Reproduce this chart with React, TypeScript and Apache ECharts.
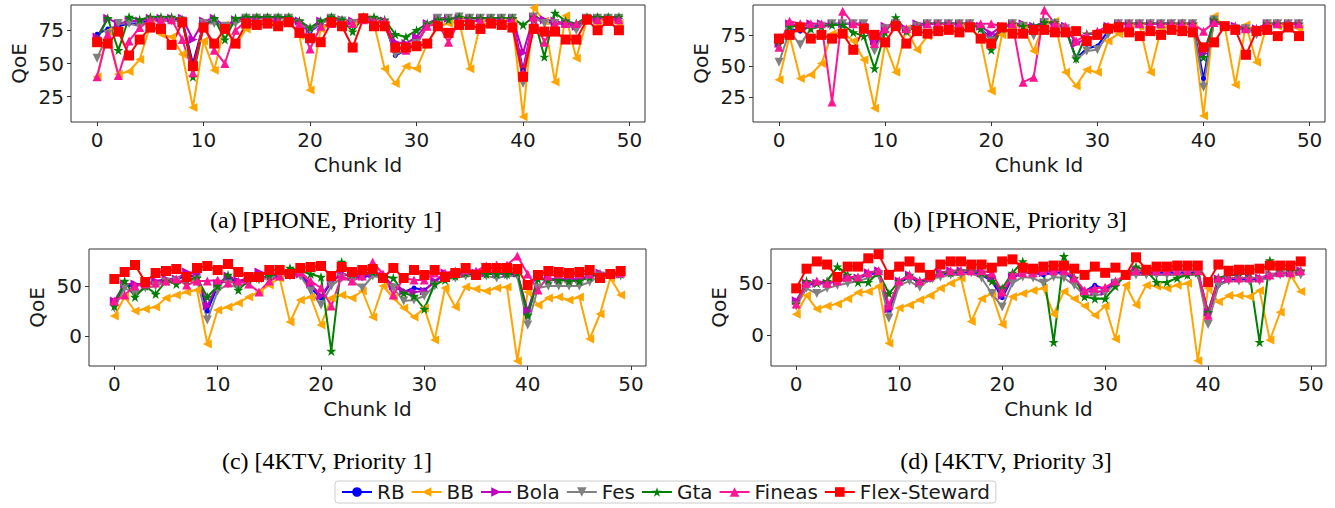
import React, { useEffect, useRef } from 'react';
import * as echarts from 'echarts';

const SERIES_NAMES = ['RB', 'BB', 'Bola', 'Fes', 'Gta', 'Fineas', 'Flex-Steward'];
const X_TICKS = [0, 10, 20, 30, 40, 50];
const CAPTIONS = ['(a) [PHONE, Priority 1]', '(b) [PHONE, Priority 3]', '(c) [4KTV, Priority 1]', '(d) [4KTV, Priority 3]'];

// (a) PHONE, Priority 1
const A_RB = [72, 76, 78, 80, 80, 83, 83, 83, 83, 50, 80, 82, 76, 82, 84, 84, 84, 84, 84, 80, 74, 80, 84, 82, 80, 84, 82, 80, 56, 60, 66, 78, 84, 84, 84, 84, 84, 84, 84, 84, 45, 85, 82, 80, 80, 76, 84, 84, 84, 84];
const A_BB = [40, 74, 42, 44, 53, 79, 72, 70, 57, 17, 67, 45, 79, 64, 76, 80, 81, 80, 82, 71, 30, 76, 80, 80, 80, 83, 80, 46, 35, 48, 46, 65, 78, 80, 82, 46, 80, 80, 82, 82, 10, 92, 82, 36, 86, 54, 83, 80, 82, 80];
const A_BOLA = [70, 84, 80, 82, 82, 84, 84, 84, 84, 68, 82, 84, 78, 83, 84, 84, 84, 84, 84, 82, 76, 82, 84, 83, 82, 84, 83, 82, 66, 65, 70, 80, 84, 84, 84, 84, 84, 84, 84, 84, 58, 85, 83, 82, 80, 78, 84, 84, 84, 84];
const A_FES = [54, 72, 80, 80, 78, 82, 82, 82, 82, 45, 80, 80, 78, 80, 84, 84, 84, 84, 84, 80, 75, 80, 84, 82, 80, 84, 82, 80, 57, 60, 65, 78, 84, 84, 85, 84, 84, 84, 84, 84, 35, 85, 80, 80, 80, 75, 84, 84, 84, 84];
const A_GTA = [68, 84, 60, 85, 83, 85, 85, 85, 83, 40, 78, 84, 68, 84, 85, 85, 85, 85, 85, 82, 77, 82, 85, 83, 74, 85, 85, 83, 72, 70, 75, 80, 83, 83, 85, 84, 84, 84, 84, 84, 79, 85, 55, 88, 82, 80, 85, 85, 85, 85];
const A_FINEAS = [40, 72, 41, 67, 77, 83, 83, 83, 68, 43, 80, 60, 50, 75, 82, 82, 82, 82, 82, 80, 61, 78, 80, 80, 80, 83, 82, 82, 62, 60, 65, 78, 80, 66, 82, 82, 82, 82, 82, 82, 43, 85, 66, 80, 80, 80, 83, 83, 83, 83];
const A_FLEX = [66, 65, 74, 56, 68, 77, 76, 64, 81, 48, 77, 65, 76, 65, 80, 79, 80, 78, 81, 73, 69, 66, 81, 78, 62, 84, 78, 78, 62, 62, 63, 65, 78, 73, 79, 79, 76, 80, 79, 77, 40, 76, 74, 74, 68, 68, 83, 75, 82, 75];

// (b) PHONE, Priority 3
const B_RB = [70, 80, 78, 82, 82, 84, 84, 84, 84, 65, 80, 84, 78, 83, 84, 84, 84, 84, 84, 80, 72, 80, 84, 83, 80, 85, 84, 80, 56, 64, 66, 78, 84, 84, 84, 84, 84, 84, 84, 84, 40, 86, 82, 80, 80, 76, 84, 84, 84, 84];
const B_BB = [39, 74, 40, 43, 52, 76, 77, 70, 55, 16, 68, 45, 80, 63, 74, 80, 80, 82, 82, 71, 30, 75, 82, 82, 62, 85, 86, 45, 34, 47, 45, 70, 76, 82, 82, 45, 80, 82, 82, 82, 10, 90, 82, 35, 83, 53, 84, 82, 82, 80];
const B_BOLA = [68, 84, 82, 84, 84, 84, 84, 84, 84, 70, 82, 84, 80, 84, 84, 84, 84, 84, 84, 82, 76, 82, 84, 84, 82, 85, 84, 82, 68, 72, 74, 82, 84, 84, 84, 84, 84, 84, 84, 84, 60, 86, 82, 82, 80, 80, 84, 84, 84, 84];
const B_FES = [53, 78, 67, 80, 82, 84, 84, 84, 84, 62, 80, 84, 78, 82, 84, 84, 84, 84, 84, 80, 70, 80, 84, 82, 74, 85, 84, 80, 55, 62, 63, 75, 84, 84, 84, 84, 84, 84, 84, 84, 33, 87, 82, 80, 80, 75, 84, 84, 84, 84];
const B_GTA = [68, 82, 82, 80, 82, 83, 83, 77, 74, 48, 77, 89, 78, 82, 84, 84, 84, 84, 84, 80, 63, 80, 84, 82, 82, 85, 85, 80, 56, 76, 75, 80, 84, 84, 84, 84, 84, 84, 84, 84, 57, 87, 82, 82, 80, 80, 84, 84, 84, 84];
const B_FINEAS = [65, 86, 84, 84, 84, 21, 94, 84, 82, 68, 80, 85, 80, 82, 84, 84, 84, 84, 84, 84, 84, 82, 84, 37, 41, 95, 84, 82, 70, 75, 78, 82, 84, 84, 84, 84, 84, 84, 84, 84, 78, 85, 82, 82, 80, 80, 84, 84, 84, 84];
const B_FLEX = [72, 75, 81, 72, 75, 72, 76, 63, 80, 75, 69, 82, 68, 78, 76, 78, 79, 77, 81, 72, 68, 81, 76, 76, 79, 79, 77, 77, 78, 70, 75, 80, 81, 77, 74, 78, 75, 79, 78, 77, 65, 69, 82, 79, 59, 78, 79, 74, 81, 74];

// (c) 4KTV, Priority 1
const C_RB = [33, 50, 50, 52, 54, 56, 57, 60, 60, 25, 50, 58, 54, 57, 62, 62, 62, 62, 62, 48, 38, 54, 62, 60, 58, 62, 60, 50, 44, 48, 46, 54, 62, 62, 62, 62, 62, 62, 62, 62, 20, 58, 56, 56, 56, 56, 60, 62, 62, 62];
const C_BB = [20, 39, 25, 27, 29, 38, 41, 44, 46, -8, 26, 29, 33, 39, 44, 51, 58, 14, 36, 39, 11, 38, 41, 38, 45, 19, 50, 38, 28, 19, 28, -4, 48, 29, 49, 47, 45, 48, 49, -25, 44, 31, 38, 39, 36, 39, -3, 22, 58, 41];
const C_BOLA = [35, 52, 52, 52, 55, 57, 57, 64, 62, 30, 52, 60, 55, 58, 64, 62, 62, 62, 62, 52, 40, 55, 62, 60, 60, 62, 60, 50, 45, 44, 45, 55, 63, 63, 63, 63, 63, 63, 63, 63, 25, 58, 57, 57, 57, 57, 60, 63, 62, 62];
const C_FES = [28, 48, 42, 48, 50, 54, 55, 55, 56, 16, 45, 52, 48, 54, 56, 58, 60, 60, 60, 45, 31, 50, 58, 55, 48, 60, 58, 48, 35, 36, 40, 50, 57, 58, 60, 60, 60, 58, 60, 60, 11, 48, 50, 50, 50, 50, 54, 60, 60, 60];
const C_GTA = [30, 55, 39, 50, 42, 55, 52, 56, 58, 39, 50, 61, 46, 56, 58, 60, 62, 68, 65, 62, 59, -15, 74, 62, 62, 64, 60, 58, 43, 40, 27, 52, 56, 60, 63, 62, 62, 62, 62, 63, 21, 57, 56, 56, 55, 55, 59, 62, 62, 62];
const C_FINEAS = [35, 41, 50, 52, 53, 55, 57, 51, 55, 55, 56, 53, 55, 52, 44, 55, 60, 62, 64, 55, 48, 30, 60, 55, 60, 74, 62, 41, 58, 56, 56, 63, 63, 65, 66, 65, 70, 71, 71, 80, 62, 46, 60, 62, 62, 62, 62, 62, 62, 63];
const C_FLEX = [57, 64, 71, 54, 63, 65, 67, 59, 68, 70, 66, 72, 64, 59, 59, 66, 66, 62, 68, 69, 70, 60, 69, 64, 66, 67, 58, 68, 58, 66, 61, 66, 59, 63, 68, 61, 68, 68, 68, 67, 51, 61, 65, 64, 63, 64, 66, 58, 62, 65];

// (d) 4KTV, Priority 3
const D_RB = [32, 48, 50, 50, 52, 55, 55, 58, 60, 24, 50, 56, 50, 55, 58, 60, 60, 60, 58, 52, 36, 55, 60, 60, 58, 60, 60, 54, 42, 48, 44, 50, 58, 60, 60, 60, 60, 60, 60, 60, 20, 48, 54, 54, 54, 54, 57, 60, 60, 60];
const D_BB = [20, 38, 25, 28, 30, 35, 41, 42, 47, -8, 26, 29, 34, 38, 45, 50, 55, 13, 35, 40, 10, 37, 40, 43, 45, 20, 42, 35, 28, 19, 28, -4, 48, 29, 48, 47, 45, 48, 50, -25, 45, 32, 38, 38, 37, 43, -5, 22, 58, 42];
const D_BOLA = [33, 50, 50, 50, 52, 55, 55, 60, 62, 25, 52, 58, 50, 55, 60, 62, 62, 62, 60, 55, 38, 56, 60, 60, 60, 62, 62, 55, 42, 42, 42, 50, 58, 62, 62, 62, 62, 62, 62, 62, 22, 54, 55, 55, 55, 55, 58, 60, 60, 62];
const D_FES = [28, 45, 40, 45, 48, 50, 52, 55, 58, 16, 48, 52, 46, 54, 56, 58, 58, 60, 55, 40, 27, 50, 56, 55, 50, 56, 55, 48, 38, 38, 40, 50, 58, 58, 58, 58, 58, 58, 58, 58, 10, 48, 52, 52, 52, 52, 56, 58, 58, 58];
const D_GTA = [30, 52, 50, 52, 66, 58, 51, 51, 60, 40, 52, 58, 52, 55, 60, 60, 62, 62, 60, 52, 45, 60, 71, 62, 62, -7, 76, 55, 37, 35, 35, 47, 58, 66, 62, 51, 51, 55, 58, 60, 22, 55, 58, 58, 60, -7, 72, 65, 62, 62];
const D_FINEAS = [30, 50, 52, 50, 52, 56, 56, 60, 62, 29, 52, 58, 52, 56, 60, 62, 62, 62, 62, 60, 42, 58, 60, 60, 62, 62, 62, 55, 43, 45, 46, 52, 58, 62, 62, 62, 62, 62, 62, 62, 19, 55, 55, 55, 55, 55, 58, 60, 60, 62];
const D_FLEX = [45, 64, 71, 68, 56, 66, 66, 74, 78, 58, 66, 71, 65, 58, 68, 71, 71, 68, 68, 65, 71, 73, 65, 64, 66, 67, 67, 64, 58, 66, 60, 65, 58, 75, 63, 66, 66, 67, 67, 67, 51, 68, 62, 63, 63, 64, 67, 67, 67, 71];

const PANELS = [
  [A_RB, A_BB, A_BOLA, A_FES, A_GTA, A_FINEAS, A_FLEX],
  [B_RB, B_BB, B_BOLA, B_FES, B_GTA, B_FINEAS, B_FLEX],
  [C_RB, C_BB, C_BOLA, C_FES, C_GTA, C_FINEAS, C_FLEX],
  [D_RB, D_BB, D_BOLA, D_FES, D_GTA, D_FINEAS, D_FLEX],
];
const Y_RANGES = [[6, 94], [5, 99], [-30, 87], [-30, 83]];
const Y_TICKS = [[25, 50, 75], [25, 50, 75], [0, 50], [0, 50]];

const STAR = 'path://M50,0L61.2,34.5L97.6,34.5L68.2,55.9L79.4,90.5L50,69.1L20.6,90.5L31.8,55.9L2.4,34.5L38.8,34.5Z';
const STYLES = [
  { color: '#0000ff', symbol: 'circle', size: 5, rotate: 0 },
  { color: '#ffa500', symbol: 'triangle', size: 9, rotate: 90 },
  { color: '#bf00bf', symbol: 'triangle', size: 9, rotate: -90 },
  { color: '#808080', symbol: 'triangle', size: 9, rotate: 180 },
  { color: '#008000', symbol: STAR, size: 10, rotate: 0 },
  { color: '#ff1493', symbol: 'triangle', size: 9, rotate: 0 },
  { color: '#ff0000', symbol: 'rect', size: 10, rotate: 0 },
];

const GRIDS = [
  { left: 71, top: 5, width: 574, height: 117 },
  { left: 753, top: 5, width: 572, height: 117 },
  { left: 89, top: 249, width: 557, height: 117 },
  { left: 771, top: 249, width: 555, height: 117 },
];
const CAPTION_POS = [[326, 220], [1010, 220], [327, 461], [1006, 461]];

const FONT = 'DejaVu Sans';
const TXT = '#1a1a1a';

export default function App() {
  const ref = useRef<HTMLDivElement>(null);
  useEffect(() => {
    if (!ref.current) return;
    const chart = echarts.init(ref.current, null, { renderer: 'svg' });
    const xAxis = GRIDS.map((_, k) => ({
      type: 'value', gridIndex: k, min: -2.45, max: 51.45,
      name: 'Chunk Id', nameLocation: 'middle', nameGap: 33,
      nameTextStyle: { fontSize: 20, fontFamily: FONT, color: TXT },
      axisLine: { show: false, onZero: false },
      axisTick: { show: true, length: 4, customValues: X_TICKS, lineStyle: { color: '#333' } },
      axisLabel: { customValues: X_TICKS, fontSize: 20, fontFamily: FONT, color: TXT, margin: 8 },
      splitLine: { show: false },
    }));
    const yAxis = GRIDS.map((_, k) => ({
      type: 'value', gridIndex: k, min: Y_RANGES[k][0], max: Y_RANGES[k][1],
      name: 'QoE', nameLocation: 'middle', nameGap: 42, nameRotate: 90,
      nameTextStyle: { fontSize: 20, fontFamily: FONT, color: TXT },
      axisLine: { show: false, onZero: false },
      axisTick: { show: true, length: 4, customValues: Y_TICKS[k], lineStyle: { color: '#333' } },
      axisLabel: { customValues: Y_TICKS[k], fontSize: 20, fontFamily: FONT, color: TXT, margin: 7 },
      splitLine: { show: false },
    }));
    const series: any[] = [];
    PANELS.forEach((panel, k) => {
      panel.forEach((vals, s) => {
        const st = STYLES[s];
        series.push({
          type: 'line', name: SERIES_NAMES[s], xAxisIndex: k, yAxisIndex: k,
          data: vals.map((v, i) => [i, v]),
          symbol: st.symbol, symbolSize: st.size, symbolRotate: st.rotate,
          showAllSymbol: true,
          lineStyle: { color: st.color, width: 2 },
          itemStyle: { color: st.color },
          emphasis: { disabled: true },
        });
      });
    });
    chart.setOption({
      animation: false,
      backgroundColor: '#ffffff',
      grid: GRIDS.map((g) => ({ ...g, show: true, borderColor: '#333', borderWidth: 1, backgroundColor: 'transparent' })),
      xAxis, yAxis, series,
      legend: {
        data: SERIES_NAMES, left: 335, top: 481,
        itemWidth: 30, itemHeight: 12, itemGap: 6,
        textStyle: { fontSize: 20, fontFamily: FONT, color: TXT },
        borderColor: '#cccccc', borderWidth: 1, borderRadius: 3, padding: [1, 6],
        backgroundColor: '#ffffff',
      },
      graphic: CAPTIONS.map((t, k) => ({
        type: 'text', x: CAPTION_POS[k][0], y: CAPTION_POS[k][1],
        style: { text: t, font: '24px "Liberation Serif"', fill: '#000', align: 'center', verticalAlign: 'middle' },
      })),
    });
    return () => chart.dispose();
  }, []);
  return <div ref={ref} style={{ position: 'absolute', left: 0, top: 0, width: 1335, height: 508, background: '#fff' }} />;
}
